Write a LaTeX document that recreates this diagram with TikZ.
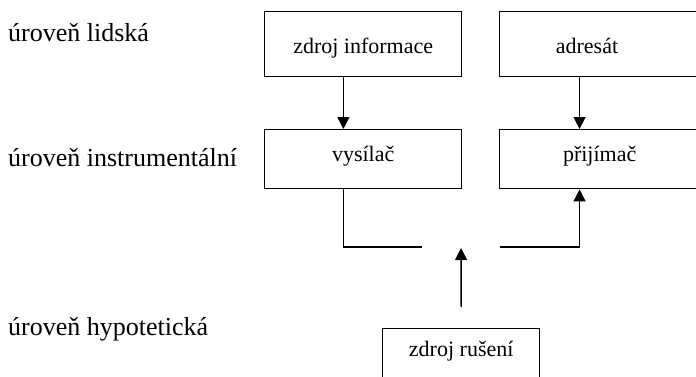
\documentclass[tikz,border=0pt]{standalone}
\usepackage{fontspec}
\setmainfont{Liberation Serif}
\usetikzlibrary{arrows.meta,calc}
\begin{document}
\begin{tikzpicture}[x=1pt,y=-1pt,
  stage/.style={draw, line width=1.4pt, fill=white, inner sep=0pt, anchor=north west},
  boxtext/.style={anchor=base, inner sep=0pt, font=\fontsize{22}{26}\selectfont},
  level/.style={anchor=base west, inner sep=0pt, font=\fontsize{26}{30}\selectfont},
  link/.style={line width=1.4pt},
  arrow/.style={link, -{Triangle[length=12pt,width=12pt]}}]
\useasboundingbox (0,0) rectangle (696,376);
\clip (0,0) rectangle (696,376);

% level captions
\node[level] (l1) at (8,41.5) {úroveň lidská};
\node[level] (l2) at (8,166) {úroveň instrumentální};
\node[level] (l3) at (8,335) {úroveň hypotetická};

% boxes
\node[stage, minimum width=197pt, minimum height=65pt] (zi) at (264,11) {};
\node[stage, minimum width=200pt, minimum height=65pt] (ad) at (499,11) {};
\node[stage, minimum width=197pt, minimum height=59pt] (vy) at (264,129) {};
\node[stage, minimum width=200pt, minimum height=59pt] (pr) at (499,129) {};
\node[stage, minimum width=157pt, minimum height=80pt] (zr) at (382,328) {};

% box captions
\node[boxtext] (tzi) at ($(zi.north)+(0,42)$) {zdroj informace};
\node[boxtext] (tad) at ($(ad.north west)+(88,42)$) {adresát};
\node[boxtext] (tvy) at ($(vy.north)+(0,32)$) {vysílač};
\node[boxtext] (tpr) at ($(pr.north)+(0,32)$) {přijímač};
\node[boxtext] (tzr) at ($(zr.north)+(0,28)$) {zdroj rušení};

% channel gap and noise source end
\coordinate (gapL) at (422,247);
\coordinate (gapR) at (500,247);
\coordinate (mid) at ($(gapL)!0.5!(gapR)$);
\coordinate (noise) at ($(zr.north)+(0,-21)$);

% connectors
\draw[arrow] ($(zi.south west)!0.4!(zi.south east)$) -- ($(vy.north west)!0.4!(vy.north east)$);
\draw[arrow] ($(ad.south west)!0.4!(ad.south east)$) -- ($(pr.north west)!0.4!(pr.north east)$);
\draw[link] ($(vy.south west)!0.4!(vy.south east)$) |- (gapL);
\draw[arrow] (gapR) -| ($(pr.south west)!0.4!(pr.south east)$);
\draw[arrow, shorten >=1pt] (noise) -- (mid);
\end{tikzpicture}
\end{document}
